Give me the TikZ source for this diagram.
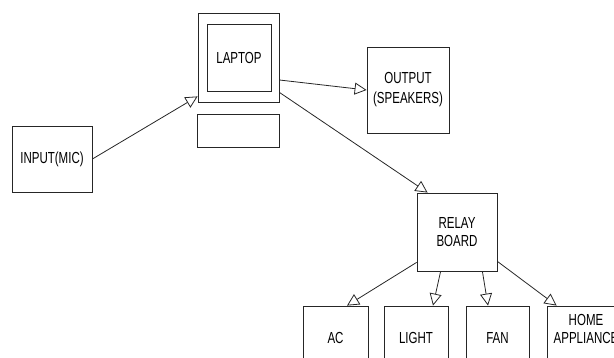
\documentclass[tikz,border=0pt]{standalone}
\usepackage{fontspec}
\setmainfont{Liberation Sans}[FakeStretch=0.72]
\usetikzlibrary{arrows.meta}

\begin{document}
\begin{tikzpicture}[
    x=1pt, y=-1pt,
    every node/.style={draw=black!85, line width=0.8pt, align=center,
        font=\fontsize{16}{18}\selectfont, inner sep=0pt},
    box/.style={minimum width=80, minimum height=66},
    unit/.style={minimum width=64, minimum height=64},
    link/.style={draw=black!85, line width=0.8pt,
        -{Triangle[open, length=12pt, width=12pt]}}
]
\useasboundingbox (0,0) rectangle (614,358);
\clip (0,0) rectangle (614,358);
% source and computer
\node[box] (input) at (52,159) {INPUT(MIC)};
\node[minimum width=81, minimum height=89] (laptop) at (238.5,57.5) {};
\node[minimum width=64, minimum height=67] (screen) at (239,57.5) {LAPTOP};
\node[minimum width=82, minimum height=33] (keyboard) at (238.5,130.5) {};
\node[minimum width=82, minimum height=86] (output) at (408,90) {OUTPUT\\[2pt](SPEAKERS)};
\node[minimum width=80, minimum height=78] (relay) at (457,232) {RELAY\\BOARD};
% appliances
\node[unit, minimum width=65] (ac) at (335.5,338) {AC};
\node[unit] (light) at (416,338) {LIGHT};
\node[unit, minimum width=63] (fan) at (497.5,338) {FAN};
\node[unit, minimum width=78] (home) at (586,338) {};
\node[draw=none] (hometext) at (586,329) {HOME\\APPLIANCE};
% connections
\draw[link] (input.east) -- ([yshift=6pt]laptop.south west);
\draw[link] ([yshift=-22.5pt]laptop.east) -- (output.west);
\draw[link] ([yshift=10pt]laptop.south east) -- ([xshift=11pt]relay.north west);
\draw[link] ([yshift=9pt]relay.south west) -- ([xshift=11.5pt]ac.north);
\draw[link] ([xshift=24pt]relay.south west) -- ([xshift=17pt]light.north);
\draw[link] ([xshift=-15pt]relay.south east) -- ([xshift=-9.5pt]fan.north);
\draw[link] ([yshift=10pt]relay.south east) -- ([xshift=10pt]home.north west);
\end{tikzpicture}
\end{document}
